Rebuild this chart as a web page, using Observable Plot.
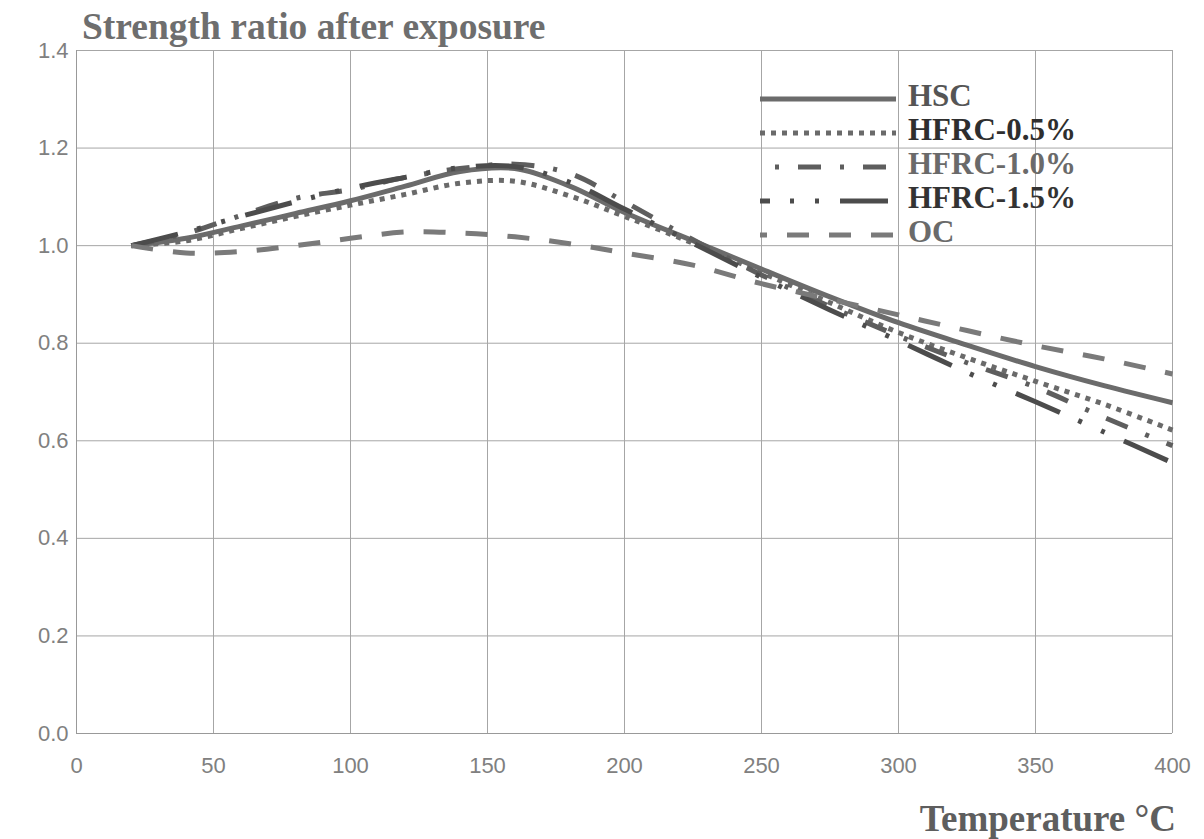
<!DOCTYPE html>
<html>
<head>
<meta charset="utf-8">
<script src="https://cdn.jsdelivr.net/npm/d3@7"></script>
<script src="https://cdn.jsdelivr.net/npm/@observablehq/plot@0.6"></script>
<style>
  html, body { margin: 0; padding: 0; background: #fff; }
  body { width: 1204px; height: 839px; position: relative; overflow: hidden; }
  #title { position: relative; height: 36px; }
  #title span { position: absolute; left: 82px; top: 8px; font: bold 37.5px "Liberation Serif", "Times New Roman", serif; line-height: 1; color: #6e6e6e; white-space: nowrap; }
  #xlabel { position: relative; height: 56px; }
  #xlabel span { position: absolute; right: 28px; top: 17px; font: bold 37px "Liberation Serif", "Times New Roman", serif; line-height: 1; color: #5e5e5e; white-space: nowrap; }
  #legend { position: absolute; left: 760px; top: 82px; }
  .row { height: 34px; display: flex; align-items: center; }
  .row svg { display: block; }
  .row span { margin-left: 12px; font: bold 31px "Liberation Serif", "Times New Roman", serif; line-height: 34px; position: relative; top: -3px; white-space: nowrap; }
</style>
</head>
<body>
<div id="title"><span>Strength ratio after exposure</span></div>
<div id="chart"></div>
<div id="xlabel"><span>Temperature °C</span></div>
<div id="legend"></div>
<script>
// ---- data ----
const temps  = [20, 40, 60, 80, 100, 120, 140, 160, 180, 200, 225, 250, 275, 300, 325, 350, 375, 400];
const hsc    = [1.000, 1.015, 1.040, 1.066, 1.092, 1.122, 1.152, 1.158, 1.122, 1.068, 1.010, 0.952, 0.895, 0.842, 0.796, 0.752, 0.713, 0.678];
const hfrc05 = [1.000, 1.010, 1.035, 1.060, 1.083, 1.105, 1.128, 1.132, 1.102, 1.060, 1.005, 0.945, 0.883, 0.822, 0.770, 0.722, 0.675, 0.622];
const hfrc10 = [1.000, 1.025, 1.062, 1.097, 1.115, 1.140, 1.158, 1.167, 1.148, 1.090, 1.012, 0.940, 0.875, 0.815, 0.760, 0.710, 0.648, 0.590];
const hfrc15 = [1.000, 1.028, 1.060, 1.090, 1.118, 1.140, 1.160, 1.162, 1.130, 1.075, 1.005, 0.935, 0.868, 0.805, 0.740, 0.680, 0.618, 0.555];
const oc     = [1.000, 0.985, 0.988, 1.000, 1.015, 1.028, 1.026, 1.018, 1.004, 0.985, 0.960, 0.922, 0.890, 0.858, 0.826, 0.795, 0.768, 0.737];

const seriesNames = ["HSC", "HFRC-0.5%", "HFRC-1.0%", "HFRC-1.5%", "OC"];
const seriesValues = [hsc, hfrc05, hfrc10, hfrc15, oc];
const xTicks = [0, 50, 100, 150, 200, 250, 300, 350, 400];
const yTicks = [0, 0.2, 0.4, 0.6, 0.8, 1.0, 1.2, 1.4];

// ---- styles ----
const styles = {
  "HSC":       {stroke: "#6b6b6b", dash: null,                 offset: 0,  text: "#555"},
  "HFRC-0.5%": {stroke: "#6a6a6a", dash: "5,6",                offset: 0,  text: "#2e2e2e"},
  "HFRC-1.0%": {stroke: "#5e5e5e", dash: "23,19,4,19",         offset: 27, text: "#6a6a6a"},
  "HFRC-1.5%": {stroke: "#4c4c4c", dash: "48,20,4,21,4,21",    offset: 38, text: "#333"},
  "OC":        {stroke: "#7a7a7a", dash: "22,20",              offset: 15, text: "#6a6a6a"}
};

const rows = [];
seriesNames.forEach((name, i) => {
  temps.forEach((t, j) => rows.push({series: name, t, v: seriesValues[i][j]}));
});

const lineMarks = seriesNames.map(name => Plot.line(rows.filter(d => d.series === name), {
  x: "t", y: "v",
  stroke: styles[name].stroke,
  strokeWidth: 5,
  strokeDasharray: styles[name].dash,
  strokeLinecap: "butt",
  curve: "catmull-rom"
}));

const chart = Plot.plot({
  width: 1204,
  height: 747,
  marginTop: 14,
  marginLeft: 76,
  marginRight: 32,
  marginBottom: 50,
  style: {fontFamily: "'Liberation Sans', Arial, sans-serif", fontSize: "22px", color: "#808080", background: "white", overflow: "visible"},
  x: {domain: [0, 400], ticks: xTicks, tickSize: 0, tickPadding: 24, label: null},
  y: {domain: [0, 1.4], ticks: yTicks, tickFormat: d3.format(".1f"), tickSize: 0, tickPadding: 8, label: null},
  marks: [
    Plot.gridX(xTicks, {stroke: "#a6a6a6", strokeOpacity: 1, strokeWidth: 1}),
    Plot.gridY(yTicks, {stroke: "#a6a6a6", strokeOpacity: 1, strokeWidth: 1}),
    Plot.ruleX([0], {stroke: "#999"}),
    Plot.ruleY([0], {stroke: "#999"}),
    ...lineMarks
  ]
});
document.getElementById("chart").appendChild(chart);

// ---- legend ----
const legend = document.getElementById("legend");
seriesNames.forEach(name => {
  const row = document.createElement("div");
  row.className = "row";
  const ns = "http://www.w3.org/2000/svg";
  const svg = document.createElementNS(ns, "svg");
  svg.setAttribute("width", 136);
  svg.setAttribute("height", 34);
  const ln = document.createElementNS(ns, "line");
  ln.setAttribute("x1", 0); ln.setAttribute("x2", 136);
  ln.setAttribute("y1", 17); ln.setAttribute("y2", 17);
  ln.setAttribute("stroke", styles[name].stroke);
  ln.setAttribute("stroke-width", 5);
  if (styles[name].dash) {
    ln.setAttribute("stroke-dasharray", styles[name].dash);
    ln.setAttribute("stroke-dashoffset", styles[name].offset);
  }
  svg.appendChild(ln);
  const sp = document.createElement("span");
  sp.textContent = name;
  sp.style.color = styles[name].text;
  row.appendChild(svg);
  row.appendChild(sp);
  legend.appendChild(row);
});
</script>
</body>
</html>
